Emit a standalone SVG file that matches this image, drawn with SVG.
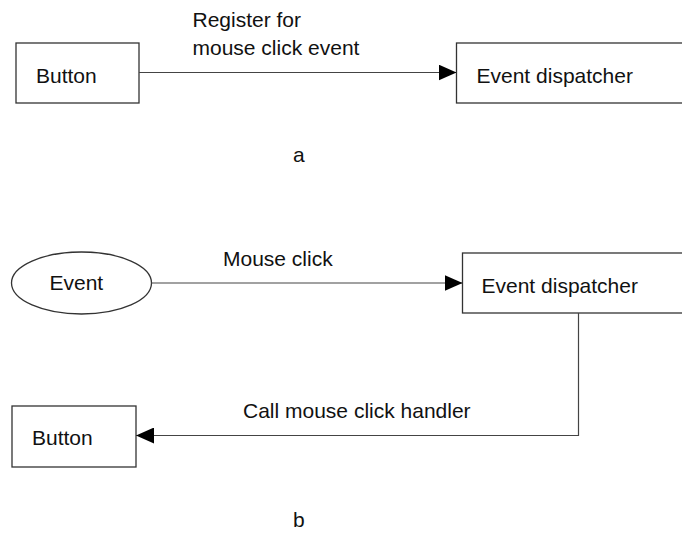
<svg xmlns="http://www.w3.org/2000/svg" width="682" height="534" viewBox="0 0 682 534">
  <defs>
    <style>
      .box { fill: #fff; stroke: #333; stroke-width: 1.3; }
      .lbl { font-family: "Liberation Sans", Arial, sans-serif; font-size: 21px; fill: #111; }
      .wire { fill: none; stroke: #444; stroke-width: 1.2; }
    </style>
    <marker id="arrow" viewBox="0 0 18 16" refX="18" refY="8" markerWidth="18" markerHeight="16" markerUnits="userSpaceOnUse" orient="auto">
      <path d="M0,0 L18,8 L0,16 Z" fill="#000"/>
    </marker>
  </defs>

  <rect width="682" height="534" fill="#fff"/>

  <!-- a: registration -->
  <g id="button-a">
    <rect class="box" x="16" y="43" width="123" height="60"/>
    <text class="lbl" x="36" y="83">Button</text>
  </g>
  <g id="dispatcher-a">
    <rect class="box" x="456.5" y="43" width="240" height="60"/>
    <text class="lbl" x="476.5" y="83">Event dispatcher</text>
  </g>
  <text class="lbl" x="293" y="162">a</text>

  <!-- b: dispatch -->
  <g id="event-b">
    <ellipse class="box" cx="81.5" cy="283" rx="70" ry="31"/>
    <text class="lbl" x="49.5" y="290">Event</text>
  </g>
  <g id="dispatcher-b">
    <rect class="box" x="462.5" y="253" width="240" height="60"/>
    <text class="lbl" x="481.5" y="293">Event dispatcher</text>
  </g>
  <g id="button-b">
    <rect class="box" x="12" y="406" width="124" height="61"/>
    <text class="lbl" x="32" y="445">Button</text>
  </g>
  <text class="lbl" x="293" y="527">b</text>

  <g id="connectors">
    <line class="wire" x1="139" y1="72.5" x2="456.5" y2="72.5" marker-end="url(#arrow)"/>
    <text class="lbl" x="192.5" y="27">Register for</text>
    <text class="lbl" x="192.5" y="55">mouse click event</text>

    <line class="wire" x1="151.5" y1="283" x2="462.5" y2="283" marker-end="url(#arrow)"/>
    <text class="lbl" x="223" y="266">Mouse click</text>

    <polyline class="wire" points="578.5,313 578.5,435.5 136,435.5" marker-end="url(#arrow)"/>
    <text class="lbl" x="243" y="418">Call mouse click handler</text>
  </g>
</svg>
